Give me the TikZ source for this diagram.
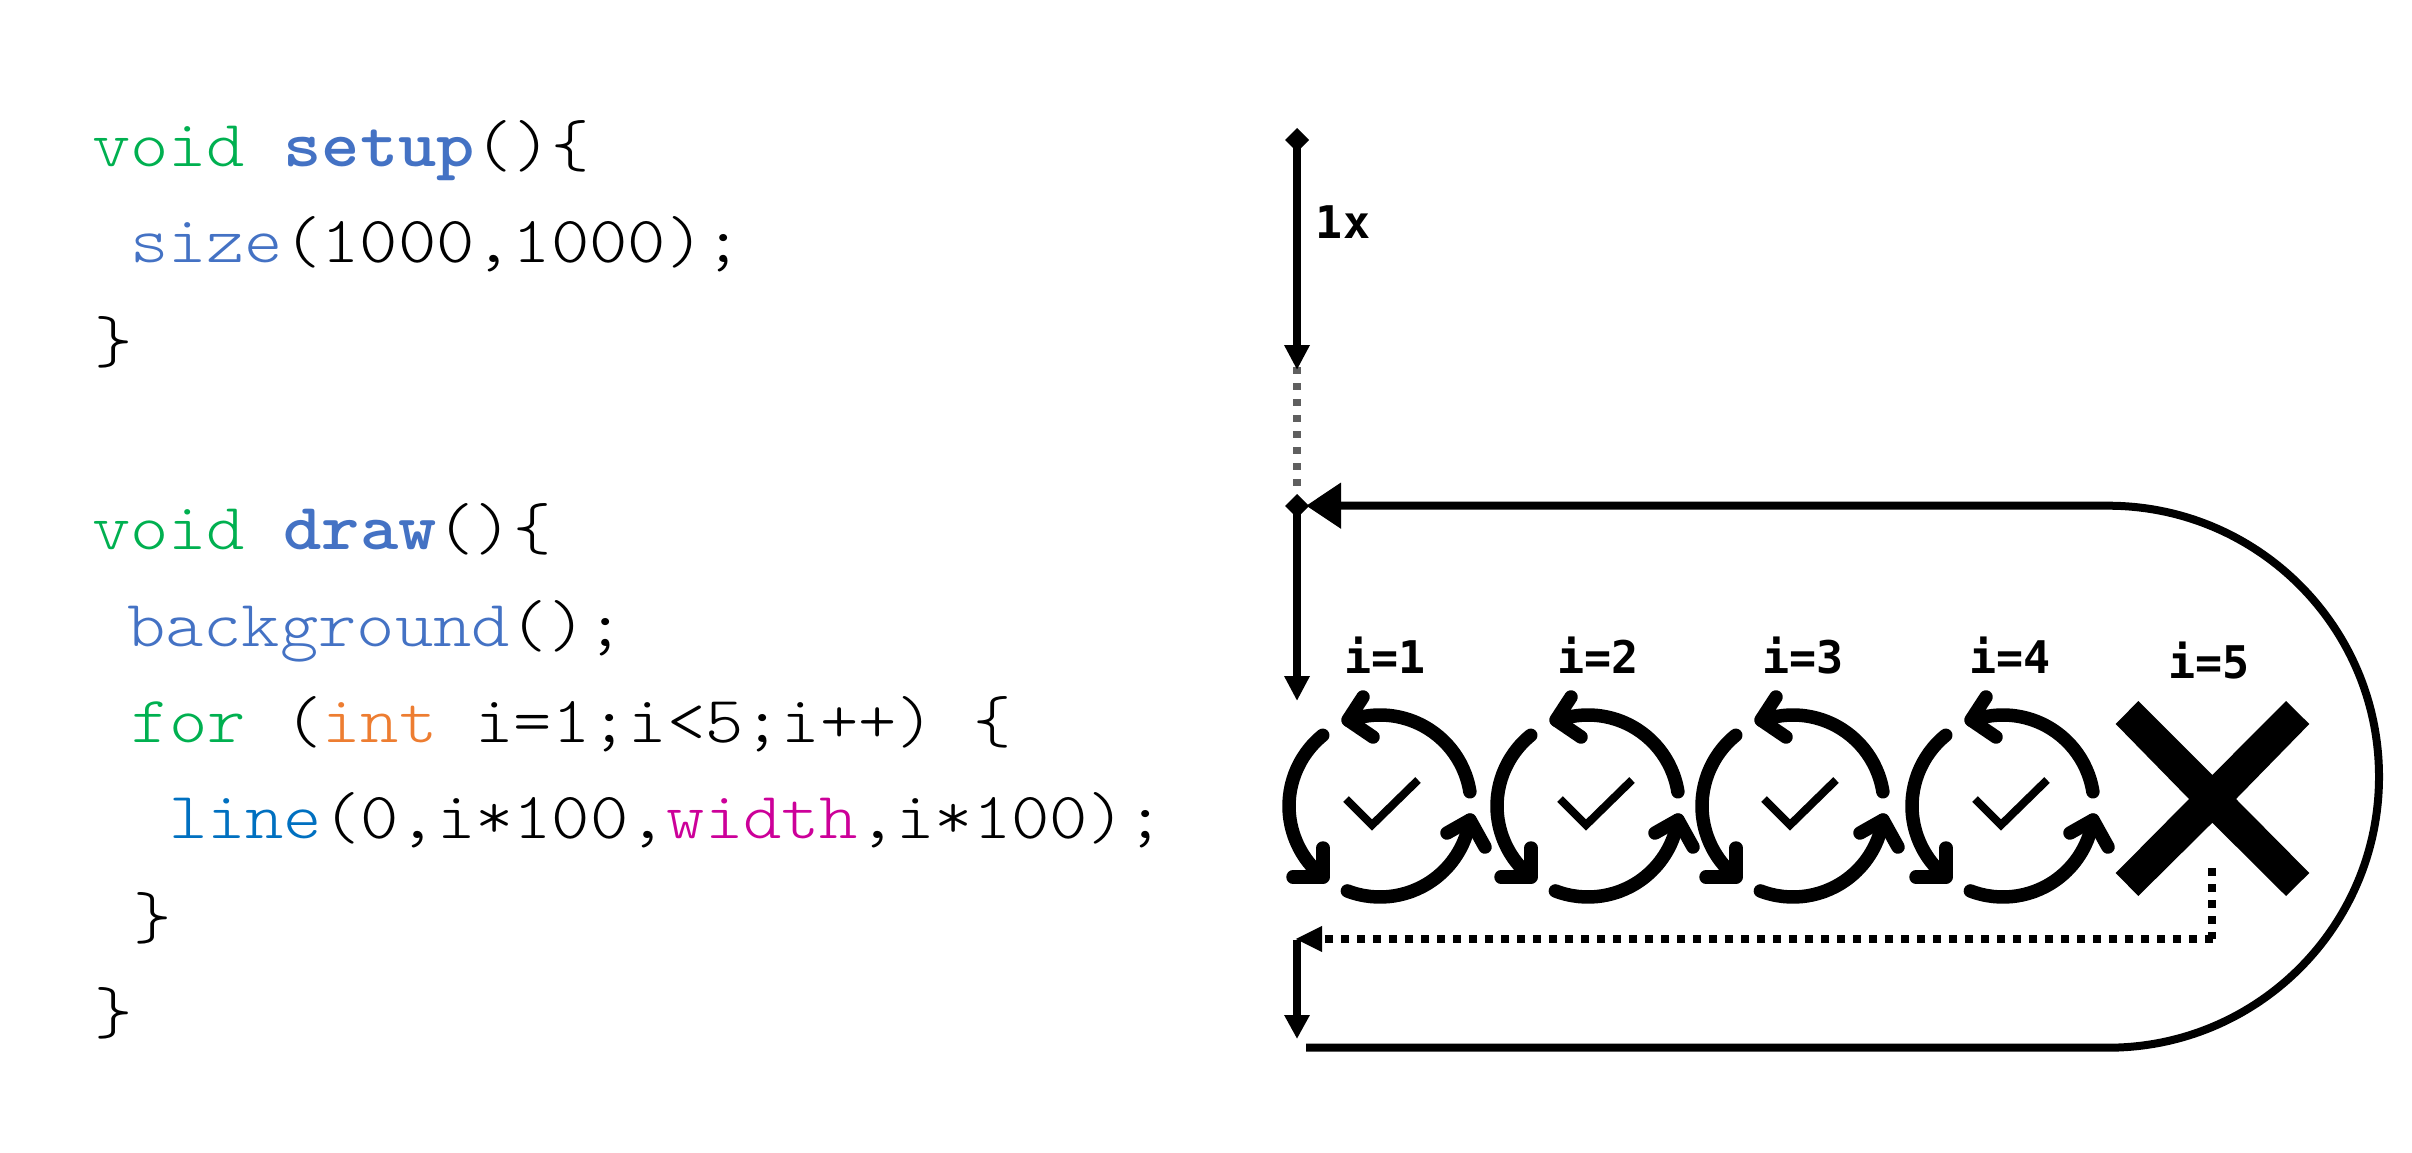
\documentclass[tikz,border=0pt]{standalone}
\usepackage{fontspec}
\usetikzlibrary{arrows.meta}
\newfontfamily\codefont[FakeStretch=1.105]{Latin Modern Mono Light}
\newfontfamily\labelfont{DejaVu Sans Mono}
\definecolor{kwgreen}{HTML}{00B050}
\definecolor{fnblue}{HTML}{4472C4}
\definecolor{lineblue}{HTML}{0070C0}
\definecolor{widthpink}{HTML}{CC0099}
\definecolor{intorange}{HTML}{ED7D31}
\definecolor{dotgrey}{HTML}{5F5F5F}
\tikzset{
  codeline/.style={anchor=base west,inner sep=0pt,outer sep=0pt,font=\codefont\fontsize{66}{66}\selectfont},
  iterlabel/.style={anchor=base,inner sep=0pt,outer sep=0pt,font=\labelfont\bfseries\fontsize{45}{45}\selectfont},
  flow/.style={line width=8.5pt,black},
  loopflow/.style={line width=8pt,black},
  dotflow/.style={line width=8pt,black,dash pattern=on 8pt off 8pt},
  dotgreyflow/.style={line width=8pt,dotgrey,dash pattern=on 7pt off 9pt},
  iconstroke/.style={line width=13.5pt,line cap=round,line join=round},
  checkstroke/.style={line width=8pt,line join=miter},
}
\newcommand{\cycleicon}[3]{%
  \begin{scope}[shift={(#1,#2)}]
    \draw[iconstroke] (9:91) arc[start angle=9,end angle=110,radius=91];
    \draw[iconstroke] (-17,109) -- (-32,86) -- (-7,69);
    \draw[iconstroke] (129:91) arc[start angle=129,end angle=231,radius=91];
    \draw[iconstroke] (-57,-42) -- (-57,-71) -- (-87,-71);
    \draw[iconstroke] (249:91) arc[start angle=249,end angle=351,radius=91];
    \draw[iconstroke] (67,-27) -- (90,-14) -- (105,-41);
    \draw[checkstroke,xshift=#3pt] (-34,7) -- (-8,-19) -- (38,26);
  \end{scope}}
\begin{document}
\begin{tikzpicture}[x=1pt,y=1pt]
\useasboundingbox (0,0) rectangle (2412,-1153);
% code
\node[codeline] (c1) at (92,-167) {\textcolor{kwgreen}{void} \textcolor{fnblue}{\bfseries setup}()\{};
\node[codeline] (c2) at (130,-262) {\textcolor{fnblue}{size}(1000,1000);};
\node[codeline] (c3) at (94,-362) {\}};
\node[codeline] (c4) at (92,-549) {\textcolor{kwgreen}{void} \textcolor{fnblue}{\bfseries draw}()\{};
\node[codeline] (c5) at (127,-646) {\textcolor{fnblue}{background}();};
\node[codeline] (c6) at (131,-742) {\textcolor{kwgreen}{for} (\textcolor{intorange}{int} i=1;i<5;i++) \{};
\node[codeline] (c7) at (169,-838) {\textcolor{lineblue}{line}(0,i*100,\textcolor{widthpink}{width},i*100);};
\node[codeline] (c8) at (133,-938) {\}};
\node[codeline] (c9) at (94,-1033) {\}};
% coordinates
\coordinate (top) at (1297,-128);
\coordinate (topend) at (1297,-370);
\coordinate (dotstart) at (1297,-367);
\coordinate (dotend) at (1297,-486);
\coordinate (loop) at (1297,-494);
\coordinate (loophit) at (1306,-505.7);
\coordinate (loopdown) at (1297,-701);
\coordinate (loopstartr) at (2108,-505.7);
\coordinate (loopendr) at (2108,-1047.7);
\coordinate (loopend) at (1306,-1047.7);
\coordinate (xdrop) at (2212,-868);
\coordinate (xcorner) at (2212,-939);
\coordinate (xcornerh) at (2213,-939);
\coordinate (backtip) at (1295,-939);
\coordinate (exit) at (1297,-940);
\coordinate (exitdown) at (1297,-1039);
% flows
\draw[dotgreyflow] (dotstart) -- (dotend);
\draw[flow,{Diamond[width=24pt,length=24pt]}-{Triangle[width=24pt,length=25pt]}] (top) -- (topend);
\draw[flow,{Diamond[width=24pt,length=24pt]}-{Triangle[width=24pt,length=25pt]}] (loop) -- (loopdown);
\draw[loopflow,-{Triangle[width=44pt,length=35pt]}] (loopend) -- (loopendr) arc[start angle=-90,end angle=90,radius=271] -- (loophit);
\draw[dotflow] (xdrop) -- (xcorner);
\draw[dotflow,-{Triangle[width=24pt,length=27pt]}] (xcornerh) -- (backtip);
\draw[flow,-{Triangle[width=24pt,length=24pt]}] (exit) -- (exitdown);
% icons
\cycleicon{1380}{-806}{0}
\cycleicon{1588}{-806}{6}
\cycleicon{1793}{-806}{5}
\cycleicon{2003}{-806}{6}
% cross
\fill (2212.3,-775) -- (2138.3,-701) -- (2115.7,-724) -- (2189,-799) -- (2115.7,-873) -- (2138.3,-896) -- (2212.3,-822.7) -- (2286,-896) -- (2309.3,-873) -- (2236,-799) -- (2309.3,-724) -- (2286,-701) -- cycle;
% labels
\node[iterlabel] (n1x) at (1343,-238) {1x};
\node[iterlabel] (i1) at (1385,-673) {i=1};
\node[iterlabel] (i2) at (1598,-673) {i=2};
\node[iterlabel] (i3) at (1803,-673) {i=3};
\node[iterlabel] (i4) at (2010,-673) {i=4};
\node[iterlabel] (i5) at (2209,-678) {i=5};
\end{tikzpicture}
\end{document}
